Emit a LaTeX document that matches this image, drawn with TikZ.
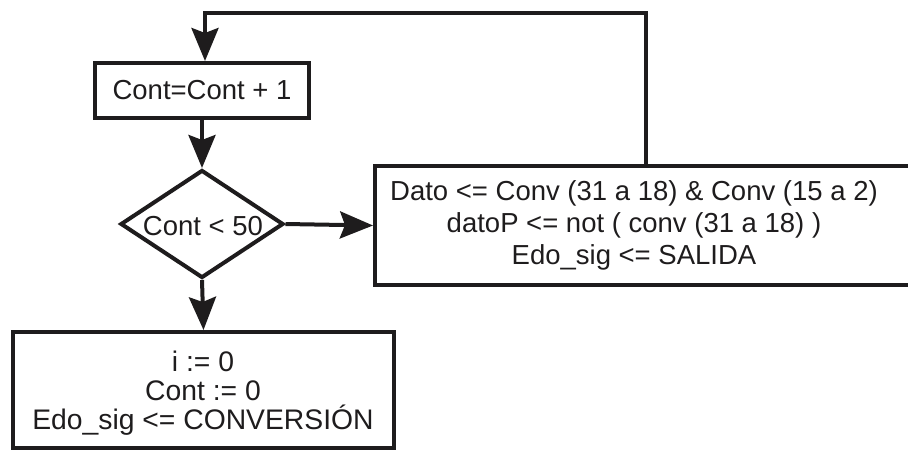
\documentclass[tikz,border=0pt]{standalone}
\usepackage{fontspec}
\setmainfont{Liberation Sans}
\usetikzlibrary{arrows.meta,shapes.geometric}
\definecolor{ink}{HTML}{1E1C1D}
\begin{document}
\begin{tikzpicture}[x=1pt,y=-1pt,
  font=\fontsize{27.5}{31}\selectfont,
  every node/.style={text=ink},
  procbox/.style={draw=ink,line width=4pt,rectangle,inner sep=0pt},
  decision/.style={draw=ink,line width=4pt,diamond,inner sep=0pt,aspect=1.5},
  flow/.style={draw=ink,line width=4pt,-{Stealth[length=33pt,width=27pt,inset=5pt]}},
  plain/.style={draw=ink,line width=4pt}]
  \useasboundingbox (0,0) rectangle (908,450);

  % increment block
  \node[procbox,minimum width=214pt,minimum height=55pt] (inc) at (202,90.5) {Cont=Cont + 1};

  % loop test
  \node[decision,minimum width=163pt,minimum height=108pt] (test) at (202,224) {};
  \node (testtxt) at (203,226) {Cont < 50};

  % output assignment block (right edge runs past the page)
  \node[procbox,minimum width=537pt,minimum height=119pt] (out) at (643.5,225.5) {};
  \node[align=center,font=\fontsize{27.5}{32}\selectfont] (outtxt) at (634,225) {Dato <= Conv (31 a 18) \& Conv (15 a 2)\\datoP <= not ( conv (31 a 18) )\\Edo\_sig <= SALIDA};

  % reset block
  \node[procbox,minimum width=381pt,minimum height=116pt] (reset) at (203.5,390) {};
  \node[align=center,font=\fontsize{28.3}{29}\selectfont] (resettxt) at (203,393) {i := 0\\Cont := 0\\Edo\_sig <= CONVERSIÓN};

  % connectors
  \coordinate (c1) at (646,13);
  \coordinate (c2) at (205,13);
  \draw[flow] (inc.south) -- (test.north);
  \draw[flow] (test.east) -- (out.west);
  \draw[flow] (test.south) -- (reset.north);
  \draw[plain,line join=miter] (out.north -| c1) -- (c1) -- ([xshift=-2pt]c2);
  \draw[flow] (c2) -- (c2 |- inc.north);
\end{tikzpicture}
\end{document}
